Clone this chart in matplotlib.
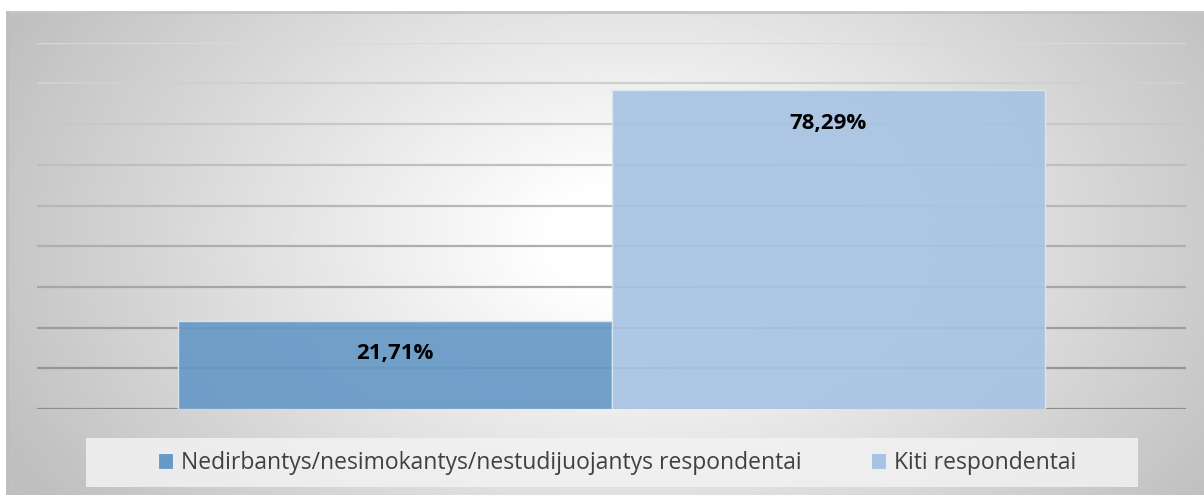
import numpy as np
import matplotlib.pyplot as plt
from matplotlib.patches import Rectangle

# data
categories = ["Nedirbantys/nesimokantys/nestudijuojantys respondentai", "Kiti respondentai"]
values = [21.71, 78.29]
value_labels = ["21,71%", "78,29%"]
colors = ["#6699c6", "#a7c3e3"]

W, H = 1204, 495
fig = plt.figure(figsize=(W / 100, H / 100), dpi=100)
fig.patch.set_facecolor("white")

# background panel with radial gradient
bg = fig.add_axes([7 / W, 0, 1 - 7 / W, 1 - 12 / H])
xx, yy = np.meshgrid(np.linspace(7, W, 400), np.linspace(12, H, 200))
r = np.sqrt(((xx - 630) / 650) ** 2 + ((yy - 240) / 440) ** 2)
t = np.clip((r - 0.12) / 0.95, 0, 1)
shade = 1.0 - t * (1.0 - 0.75)
bg.imshow(shade, cmap="gray", vmin=0, vmax=1, aspect="auto", extent=[0, 1, 0, 1], origin="upper")
bg.set_xlim(0, 1)
bg.set_ylim(0, 1)
bg.axis("off")
bg.plot([0, 1], [1, 1], color="#c4c4c4", lw=2, transform=bg.transAxes, clip_on=False)
bg.plot([0, 0], [0, 1], color="#bdbdbd", lw=2, transform=bg.transAxes, clip_on=False)

ax = fig.add_axes([37 / W, 1 - 409 / H, (1186 - 37) / W, (409 - 42.7) / H])
ax.set_facecolor("none")
ax.set_xlim(-0.5, 0.5)
ax.set_ylim(0, 90)

ticks = np.arange(0, 91, 10)
for tk in ticks:
    f = tk / 90
    c = 0.55 + 0.3 * f
    ax.axhline(tk, color=(c, c, c), lw=1.6, zorder=1)

bw = 0.377
xs = [-bw / 2, bw / 2]
ax.bar(xs, values, width=bw, color=colors, edgecolor="#dce6f2", linewidth=1, alpha=0.92, zorder=2)
for x, v, lab in zip(xs, values, value_labels):
    ax.annotate(lab, (x, v), xytext=(0, -24), textcoords="offset points", ha="center", va="center",
                fontsize=16, fontweight="bold", fontfamily="Open Sans", color="black", zorder=3)

for s in ax.spines.values():
    s.set_visible(False)
ax.set_xticks([])
ax.set_yticks([])

# legend
fig.patches.append(Rectangle((86 / W, 1 - 487 / H), (1138 - 86) / W, 49 / H, transform=fig.transFigure,
                             facecolor="#f2f2f2", edgecolor="none", alpha=0.85, zorder=1))
handles = [Rectangle((0, 0), 1, 1, facecolor=c, edgecolor="#e8eef6", lw=0.8) for c in colors]
leg = fig.legend(handles, categories, loc="center", bbox_to_anchor=(617 / W, 1 - 463 / H), ncol=2,
                 frameon=False, handlelength=0.66, handleheight=0.66, handletextpad=0.35,
                 columnspacing=3.0, prop={"family": "Open Sans", "size": 16.5})
for txt in leg.get_texts():
    txt.set_color("#404040")

fig.savefig("out.png", dpi=100)
